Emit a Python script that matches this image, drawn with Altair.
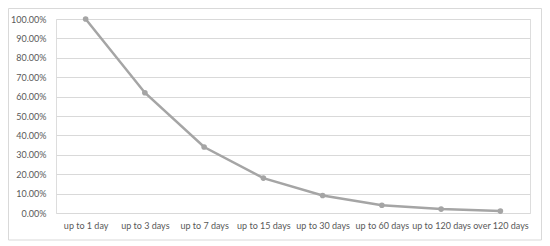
import altair as alt
import pandas as pd

categories = ["up to 1 day", "up to 3 days", "up to 7 days", "up to 15 days",
              "up to 30 days", "up to 60 days", "up to 120 days", "over 120 days"]
values = [1.00, 0.62, 0.34, 0.18, 0.09, 0.04, 0.02, 0.01]

df = pd.DataFrame({"cat": categories, "val": values})

FONT = "Lato"
GREY = "#a5a5a5"

x = alt.X("cat:N", sort=categories, title=None,
          scale=alt.Scale(paddingInner=0, paddingOuter=0),
          axis=alt.Axis(labelAngle=0, domain=False, ticks=False, grid=False,
                        labelPadding=8, labelFontSize=9, labelColor="#595959",
                        labelFont=FONT))
y = alt.Y("val:Q", title=None,
          scale=alt.Scale(domain=[0, 1], nice=False),
          axis=alt.Axis(format=".2%", values=[i / 10 for i in range(11)],
                        domain=False, ticks=False, gridColor="#d9d9d9",
                        gridWidth=1, labelPadding=10, labelFontSize=9,
                        labelColor="#595959", labelFont=FONT))

base = alt.Chart(df)
line = base.mark_line(color=GREY, strokeWidth=2.5).encode(x=x, y=y)
pts = base.mark_circle(color=GREY, size=32, opacity=1).encode(x=x, y=y)

border = alt.Chart(pd.DataFrame({"a": [0]})).mark_rect(
    fill=None, stroke="#d9d9d9", strokeWidth=1, clip=False
).encode(x=alt.value(-47.5), x2=alt.value(485.5),
         y=alt.value(-10.5), y2=alt.value(221))

chart = alt.layer(border, line, pts).properties(
    width=474, height=194,
    autosize=alt.AutoSizeParams(type="none"),
    padding={"left": 48, "top": 11, "right": 12, "bottom": 30},
).configure_view(stroke=None).configure(background="white")

chart.save("out.html", embed_options={"renderer": "svg", "actions": False})
